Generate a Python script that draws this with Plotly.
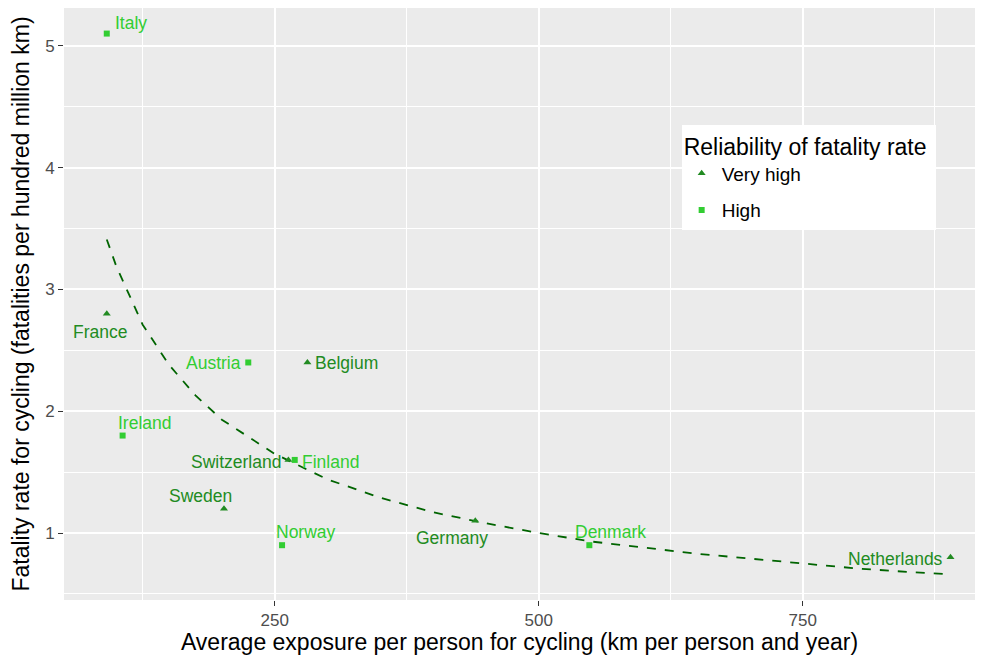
import plotly.graph_objects as go

# very high reliability countries
vh_names = ["France", "Belgium", "Switzerland", "Sweden", "Germany", "Netherlands"]
vh_exposure = [91, 281, 263, 202, 440, 890]
vh_fatality = [2.8, 2.4, 1.6, 1.2, 1.1, 0.8]

# high reliability countries
h_names = ["Italy", "Austria", "Ireland", "Finland", "Norway", "Denmark"]
h_exposure = [91, 225, 106, 269, 257, 548]
h_fatality = [5.1, 2.4, 1.8, 1.6, 0.9, 0.9]

# fitted curve
fit_x = [91, 100, 125, 150, 175, 200, 250, 300, 350, 400, 450, 500, 550, 600, 650, 700, 750, 800, 850, 890]
fit_y = [3.41, 3.19, 2.71, 2.38, 2.13, 1.93, 1.65, 1.44, 1.29, 1.17, 1.08, 1.00, 0.93, 0.88, 0.83, 0.79, 0.75, 0.71, 0.68, 0.66]

# label offsets from each point, in pixels (right, down), like ggrepel put them
label_offset = {
    "Italy": (24, -11), "France": (-7, 18), "Austria": (-35, 1), "Belgium": (39, 1),
    "Ireland": (22, -13), "Switzerland": (-52, 2), "Finland": (36, 2), "Sweden": (-23, -13),
    "Norway": (24, -13), "Germany": (-23, 17), "Denmark": (21, -13), "Netherlands": (-55, 2),
}

dark = "#228B22"
light = "#32CD32"
font = "Liberation Sans, Arial, sans-serif"

fig = go.Figure()
fig.add_trace(go.Scatter(
    x=fit_x, y=fit_y, mode="lines", showlegend=False,
    line=dict(color="#006400", width=1.8, dash="dash"),
))
fig.add_trace(go.Scatter(
    x=vh_exposure, y=vh_fatality, mode="markers",
    name="Very high", legendgroup="vh",
    marker=dict(symbol="triangle-up", size=7, color=dark),
))
fig.add_trace(go.Scatter(
    x=h_exposure, y=h_fatality, mode="markers",
    name="High", legendgroup="h",
    marker=dict(symbol="square", size=6, color=light),
))

for names, xs, ys, color in [(vh_names, vh_exposure, vh_fatality, dark),
                             (h_names, h_exposure, h_fatality, light)]:
    for name, x, y in zip(names, xs, ys):
        dx, dy = label_offset[name]
        fig.add_annotation(
            x=x, y=y, text=name, showarrow=False,
            xanchor="center", yanchor="middle", xshift=dx, yshift=-dy,
            font=dict(size=17.5, color=color, family=font),
        )

axis_common = dict(
    showgrid=True, gridcolor="white", gridwidth=1.6,
    zeroline=False, showline=False, automargin=False,
    ticks="outside", ticklen=5, tickcolor="#333333", tickwidth=1,
    tickfont=dict(size=17, color="#4D4D4D", family=font),
)

# page body adds an 8px margin, so keep the figure inside the window
fig.update_layout(
    width=967, height=647,
    margin=dict(l=56, r=0, t=0, b=55),
    paper_bgcolor="white",
    plot_bgcolor="#EBEBEB",
    font=dict(family=font),
    xaxis=dict(
        range=[50.5, 913.2], tick0=0, dtick=250,
        minor=dict(dtick=125, showgrid=True, gridcolor="white", gridwidth=0.7),
        title=dict(text="Average exposure per person for cycling (km per person and year)",
                   font=dict(size=23, color="black", family=font), standoff=3),
        **axis_common,
    ),
    yaxis=dict(
        range=[0.45, 5.31], tick0=0, dtick=1,
        minor=dict(dtick=0.5, showgrid=True, gridcolor="white", gridwidth=0.7),
        title=dict(text="Fatality rate for cycling (fatalities per hundred million km)",
                   font=dict(size=23, color="black", family=font), standoff=14),
        **axis_common,
    ),
    legend=dict(
        x=0.678, y=0.803, xanchor="left", yanchor="top",
        bgcolor="white",
        title=dict(text="Reliability of fatality rate ", font=dict(size=23, color="black", family=font)),
        font=dict(size=19, color="black", family=font),
        tracegroupgap=9,
    ),
)

fig.write_html("out.html")
